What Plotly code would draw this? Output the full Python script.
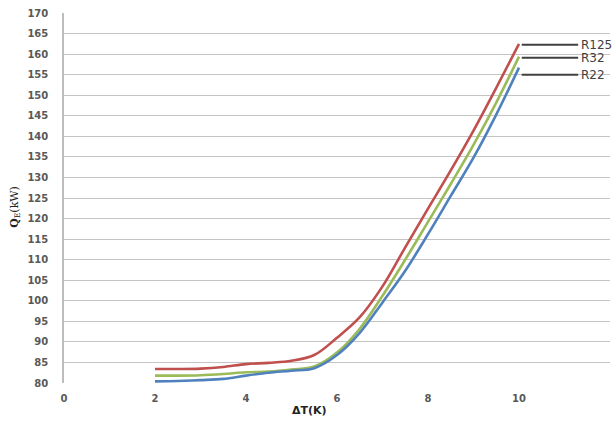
import plotly.graph_objects as go

# Temperature difference (K)
dt = [2, 2.5, 3, 3.5, 4, 4.5, 5, 5.5, 6, 6.5, 7, 7.5, 8, 8.5, 9, 9.5, 10]

# Evaporator capacity (kW) per refrigerant
q_r125 = [83.4, 83.4, 83.5, 83.9, 84.6, 84.9, 85.4, 86.8, 91.0, 96.0, 103.5, 113.0, 122.4, 131.7, 141.4, 151.8, 162.5]
q_r32 = [81.8, 81.8, 81.9, 82.2, 82.6, 82.8, 83.3, 84.0, 87.4, 93.2, 101.2, 110.0, 119.2, 128.4, 137.9, 148.2, 159.4]
q_r22 = [80.4, 80.5, 80.7, 81.0, 81.8, 82.5, 83.0, 83.6, 86.8, 92.2, 99.6, 107.3, 116.2, 125.5, 134.8, 145.3, 156.7]

series = [
    ("R125", q_r125, "#C0504D", 162.3),
    ("R32", q_r32, "#9BBB59", 159.1),
    ("R22", q_r22, "#4F81BD", 155.0),
]

x_ticks = [0, 2, 4, 6, 8, 10, 12]
y_ticks = list(range(80, 171, 5))

fig = go.Figure()
for name, vals, color, _ in series:
    fig.add_trace(go.Scatter(
        x=dt, y=vals, name=name, mode="lines",
        line=dict(color=color, width=2.6, shape="spline", smoothing=1.0),
        showlegend=False,
    ))

# Leader lines with series names at the right end
for name, vals, color, ylab in series:
    fig.add_shape(type="line", x0=10.06, x1=11.3, y0=ylab, y1=ylab,
                  xref="x", yref="y", line=dict(color="#404040", width=2))
    fig.add_annotation(x=11.3, y=ylab, text=name, showarrow=False,
                       xanchor="left", yanchor="middle", xshift=1,
                       font=dict(family="DejaVu Sans", size=12, color="#404040"))

tick_font = dict(family="DejaVu Sans", size=10, color="#595959")

fig.update_layout(
    width=616, height=421,
    margin=dict(l=64, r=6, t=13, b=38),
    paper_bgcolor="white", plot_bgcolor="white",
    xaxis=dict(
        range=[0, 12], tickvals=x_ticks, ticktext=[f"<b>{v}</b>" for v in x_ticks],
        showgrid=False, zeroline=False, showline=False,
        tickfont=tick_font, ticks="", ticklabelstandoff=8,
    ),
    yaxis=dict(
        range=[80, 170], tickvals=y_ticks, ticktext=[f"<b>{v}</b>" for v in y_ticks],
        showgrid=True, gridcolor="#C4C4C4", gridwidth=1.2,
        zeroline=False, showline=True, linecolor="#BDBDBD", linewidth=1.5,
        tickfont=tick_font, ticks="", ticklabelstandoff=12,
    ),
)

# Axis titles
fig.add_annotation(xref="paper", yref="paper", x=(309 - 64) / 546, y=-0.075,
                   text="<b>ΔT(K)</b>", showarrow=False, xanchor="center", yanchor="middle",
                   font=dict(family="DejaVu Sans", size=11, color="#222222"))
fig.add_annotation(xref="paper", yref="paper", x=-0.09, y=(383 - 207) / 370,
                   text="<b>Q</b><sub>E</sub>(kW)", showarrow=False, textangle=-90,
                   xanchor="center", yanchor="middle",
                   font=dict(family="DejaVu Serif", size=11, color="#222222"))

fig.write_html("out.html")
